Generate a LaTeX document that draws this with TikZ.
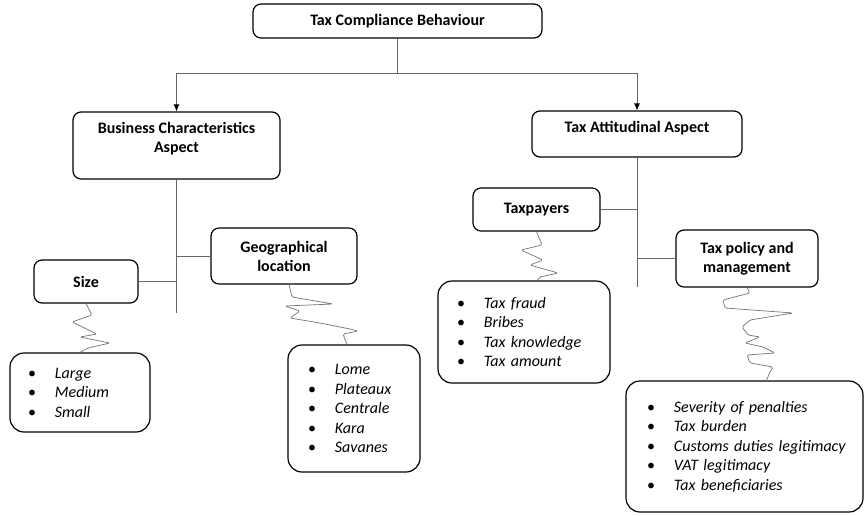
\documentclass[tikz,border=0pt]{standalone}
\usepackage{fontspec}
\setmainfont{Carlito}
\usetikzlibrary{arrows.meta}

\begin{document}
\begin{tikzpicture}[x=1pt,y=-1pt,
    head node/.style={draw,rounded corners=8pt,line width=1.2pt,font=\fontsize{16}{19}\selectfont\bfseries,align=center,inner sep=0pt},
    list node/.style={draw,rounded corners=14pt,line width=1.2pt,font=\fontsize{16}{19.5}\selectfont,align=left,inner ysep=0pt},
    link/.style={draw=black!60,line width=0.8pt},
    tip/.style={-{Latex[length=7pt,width=6pt,black]}},
    wiggle/.style={draw=black!55,line width=0.7pt,rounded corners=1.5pt}]

    \useasboundingbox (0,0) rectangle (865,515);

    % boxes
    \node[head node,minimum width=289pt,minimum height=34pt] at (397.5,21) (tcb) {Tax Compliance Behaviour};
    \node[head node,minimum width=207pt,minimum height=67pt] at (176.5,145.5) (bca) {\raisebox{6pt}[\height][\depth]{\begin{tabular}{@{}c@{}}Business Characteristics\\Aspect\end{tabular}}};
    \node[head node,minimum width=210pt,minimum height=46pt] at (637,134) (taa) {\raisebox{6pt}[\height][\depth]{Tax Attitudinal Aspect}};
    \node[head node,minimum width=104pt,minimum height=43pt] at (86,281.5) (size) {Size};
    \node[head node,minimum width=146pt,minimum height=56pt] at (284,256) (geo) {Geographical\\location};
    \node[head node,minimum width=127pt,minimum height=43pt] at (536.5,209.5) (taxp) {Taxpayers};
    \node[head node,minimum width=142pt,minimum height=57pt] at (747,258.5) (tpm) {Tax policy and\\management};

    % lists
    \node[list node,inner xsep=18pt,text width=104pt,minimum height=79pt] at (80,392.5) (sizelist)
        {\textbullet\hspace{19pt}\textit{Large}\\\textbullet\hspace{19pt}\textit{Medium}\\\textbullet\hspace{19pt}\textit{Small}};
    \node[list node,inner xsep=20pt,text width=92pt,minimum height=127pt] at (354,408.5) (geolist)
        {\textbullet\hspace{19pt}\textit{Lome}\\\textbullet\hspace{19pt}\textit{Plateaux}\\\textbullet\hspace{19pt}\textit{Centrale}\\\textbullet\hspace{19pt}\textit{Kara}\\\textbullet\hspace{19pt}\textit{Savanes}};
    \node[list node,inner xsep=19pt,text width=134pt,minimum height=102pt] at (524,332) (taxplist)
        {\textbullet\hspace{19pt}\textit{Tax fraud}\\\textbullet\hspace{19pt}\textit{Bribes}\\\textbullet\hspace{19pt}\textit{Tax knowledge}\\\textbullet\hspace{19pt}\textit{Tax amount}};
    \node[list node,inner xsep=21pt,text width=195pt,minimum height=131pt] at (744.5,446.5) (tpmlist)
        {\textbullet\hspace{19pt}\textit{Severity of penalties}\\\textbullet\hspace{19pt}\textit{Tax burden}\\\mbox{\textbullet\hspace{19pt}\textit{Customs duties legitimacy}}\\\textbullet\hspace{19pt}\textit{VAT legitimacy}\\\textbullet\hspace{19pt}\textit{Tax beneficiaries}};

    % tree lines
    \coordinate (fork) at (397.5,73);
    \coordinate (bcatrunk) at (176.5,313);
    \coordinate (taatrunk) at (637,287);
    \draw[link] (tcb.south) -- (fork);
    \draw[link,tip] (fork) -| (bca.north);
    \draw[link,tip] (fork) -| (taa.north);
    \draw[link] (bca.south) -- (bcatrunk);
    \draw[link] (size.east) -- (size.east -| bcatrunk);
    \draw[link] (geo.west) -- (geo.west -| bcatrunk);
    \draw[link] (taa.south) -- (taatrunk);
    \draw[link] (taxp.east) -- (taxp.east -| taatrunk);
    \draw[link] (tpm.west) -- (tpm.west -| taatrunk);

    % wavy links
    \draw[wiggle] (size.south) -- (92,315) -- (72,322) -- (97,334) -- (80,337) -- (110,343) -- (88,348) -- (sizelist.north);
    \draw[wiggle] ([xshift=5pt]geo.south) -- (292,297) -- (333,304) -- (285,306) -- (300,311) -- (290,318) -- (320,323) -- (350,329) -- (358,331) -- (343,334) -- ([xshift=-7pt]geolist.north);
    \draw[wiggle] (taxp.south) -- (542,245) -- (521,250) -- (543,260) -- (530,265) -- (558,273) -- (540,277) -- ([xshift=13pt]taxplist.north);
    \draw[wiggle] (tpm.south) -- (750,293) -- (723,300) -- (725,308) -- (793,313) -- (750,320) -- (742,327) -- (748,335) -- (760,337) -- (745,343) -- (763,347) -- (775,353) -- (747,355) -- (750,363) -- (773,367) -- (770,372) -- ([xshift=22pt]tpmlist.north);
\end{tikzpicture}
\end{document}
